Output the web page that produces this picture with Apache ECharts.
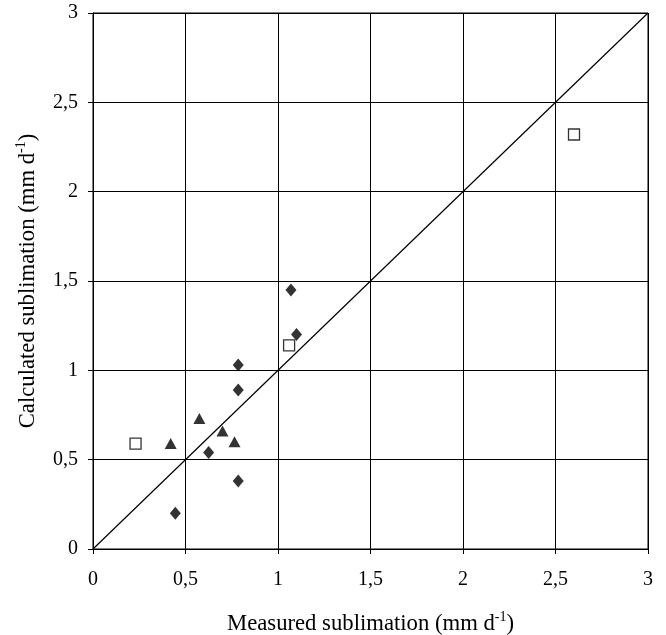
<!DOCTYPE html>
<html><head><meta charset="utf-8">
<script src="https://cdn.jsdelivr.net/npm/echarts@6/dist/echarts.min.js"></script>
<style>html,body{margin:0;padding:0;background:#fff}#c{width:666px;height:635px}</style>
</head><body><div id="c"></div>
<script>
var diamonds = [[1.07,1.45],[1.10,1.20],[0.785,1.03],[0.785,0.89],[0.625,0.54],[0.785,0.38],[0.445,0.20]];
var triangles = [[0.575,0.73],[0.70,0.66],[0.765,0.60],[0.42,0.59]];
var squares = [[0.23,0.59],[1.06,1.14],[2.60,2.32]];
var oneToOne = [[0,0],[3,3]];
var ticks = [0,0.5,1,1.5,2,2.5,3];

var font = 'Liberation Serif';
function fmt(v){ return String(v).replace('.', ','); }
var chart = echarts.init(document.getElementById('c'));
var axisCommon = {
  min: 0, max: 3, interval: 0.5,
  axisLine: {show: true, onZero: false, lineStyle: {color: '#000', width: 1}},
  axisTick: {show: true, inside: false, length: 5, lineStyle: {color: '#000'}},
  splitLine: {show: true, lineStyle: {color: '#000', width: 1}},
  axisLabel: {fontFamily: font, fontSize: 20, color: '#000', formatter: function(v){ return fmt(v); }},
  nameLocation: 'middle',
  nameTextStyle: {fontFamily: font, fontSize: 22.7, color: '#000',
    rich: {t: {fontFamily: font, fontSize: 22.7, color: '#000', lineHeight: 26},
           s: {fontFamily: font, fontSize: 14, color: '#000', lineHeight: 26, padding: [0,0,14,0]}}}
};
chart.setOption({
  animation: false,
  backgroundColor: '#fff',
  grid: {left: 93, right: 18, top: 13, bottom: 86, show: true, borderColor: '#000', borderWidth: 1,
         containLabel: false, outerBoundsMode: 'none'},
  xAxis: Object.assign({}, axisCommon, {
    type: 'value', name: '{t|Measured sublimation (mm d}{s|-1}{t|)}', nameGap: 62,
    axisLabel: Object.assign({}, axisCommon.axisLabel, {margin: 21})
  }),
  yAxis: Object.assign({}, axisCommon, {
    type: 'value', name: '{t|Calculated sublimation (mm d}{s|-1}{t|)}', nameGap: 50,
    axisLabel: Object.assign({}, axisCommon.axisLabel, {margin: 15})
  }),
  series: [
    {type: 'line', data: oneToOne, showSymbol: false, symbol: 'none',
     lineStyle: {color: '#000', width: 1.2}, z: 1},
    {type: 'scatter', data: diamonds, symbol: 'diamond', symbolSize: [11, 13],
     itemStyle: {color: '#000'}, z: 3},
    {type: 'scatter', data: triangles, symbol: 'triangle', symbolSize: [12, 11],
     itemStyle: {color: '#000'}, z: 3},
    {type: 'scatter', data: squares, symbol: 'rect', symbolSize: 11,
     itemStyle: {color: '#fff', borderColor: '#000', borderWidth: 1.3}, z: 3}
  ]
});
</script></body></html>
